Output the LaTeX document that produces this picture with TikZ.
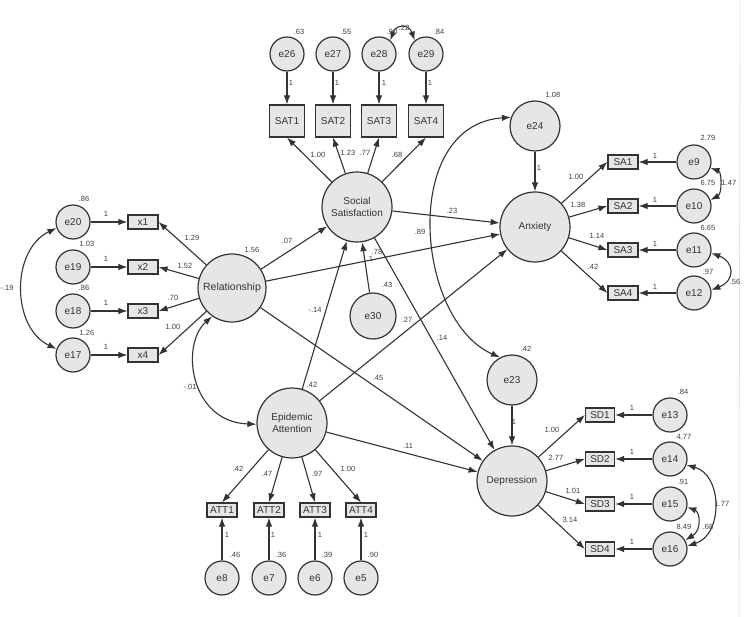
\documentclass[tikz,border=0pt]{standalone}
\usepackage{fontspec}
\setmainfont{Liberation Sans}
\usetikzlibrary{arrows.meta}
\definecolor{fillg}{HTML}{E6E6E6}
\definecolor{lineg}{HTML}{333333}
\definecolor{txtg}{HTML}{404040}
\begin{document}
\begin{tikzpicture}[x=1pt,y=-1pt,
  lat/.style={circle,draw=lineg,line width=1.2pt,fill=fillg,inner sep=0pt,font=\fontsize{10}{11.5}\selectfont,text=lineg,align=center},
  big/.style={lat,minimum size=70pt},
  err/.style={lat,minimum size=34pt},
  mid/.style={lat,minimum size=50pt},
  obs/.style={rectangle,draw=lineg,line width=1.2pt,fill=fillg,inner sep=0pt,font=\fontsize{10}{11}\selectfont,text=lineg},
  obsS/.style={obs,minimum width=30pt,minimum height=14pt},
  obsL/.style={obs,minimum width=35pt,minimum height=32pt},
  reg/.style={draw=lineg,line width=1.1pt,-{Latex[length=9pt,width=6.5pt]}},
  cov/.style={draw=lineg,line width=1.1pt,{Latex[length=9pt,width=6.5pt]}-{Latex[length=9pt,width=6.5pt]}},
  lb/.style={font=\fontsize{7.5}{8}\selectfont,text=txtg,inner sep=0pt},
]
\useasboundingbox[fill=white] (0,0) rectangle (744,617);
\draw[gray!20,line width=0.8pt] (740,0) -- (739,617);

% latent variables
\node[big] (SS) at (357,207) {Social\\Satisfaction};
\node[big,minimum size=68pt,font=\fontsize{10.5}{12}\selectfont] (Rel) at (232,288) {Relationship};
\node[big] (EA) at (292,423) {Epidemic\\Attention};
\node[big] (Anx) at (535,227) {Anxiety};
\node[big] (Dep) at (512,481) {Depression};
\node[mid] (e24) at (535,126) {e24};
\node[mid] (e23) at (512,380) {e23};
\node[lat,minimum size=46pt] (e30) at (373,316) {e30};

% top indicators
\foreach \i/\e/\x in {1/26/287,2/27/333,3/28/379,4/29/426}{
  \node[err] (e\e) at (\x,54) {e\e};
  \node[obsL] (SAT\i) at (\x,121) {SAT\i};
  \draw[reg] (e\e) -- (SAT\i);
  \draw[reg] (SS) -- (SAT\i.south);
}
% left indicators
\foreach \i/\e/\y in {1/20/222,2/19/267,3/18/311,4/17/355}{
  \node[err] (e\e) at (73,\y) {e\e};
  \node[obsS] (x\i) at (143,\y) {x\i};
  \draw[reg] (e\e) -- (x\i);
  \draw[reg] (Rel) -- (x\i.east);
}
% anxiety indicators
\foreach \i/\e/\y in {1/9/162,2/10/206,3/11/250,4/12/293}{
  \node[err] (e\e) at (694,\y) {e\e};
  \node[obsS] (SA\i) at (623,\y) {SA\i};
  \draw[reg] (e\e) -- (SA\i);
  \draw[reg] (Anx) -- (SA\i.west);
}
% depression indicators
\foreach \i/\e/\y in {1/13/415,2/14/459,3/15/504,4/16/549}{
  \node[err] (e\e) at (670,\y) {e\e};
  \node[obsS,minimum width=29pt] (SD\i) at (600,\y) {SD\i};
  \draw[reg] (e\e) -- (SD\i);
  \draw[reg] (Dep) -- (SD\i.west);
}
% attention indicators
\foreach \i/\e/\x in {1/8/222,2/7/269,3/6/315,4/5/361}{
  \node[err] (e\e) at (\x,578) {e\e};
  \node[obsS] (ATT\i) at (\x,510) {ATT\i};
  \draw[reg] (e\e) -- (ATT\i);
  \draw[reg] (EA) -- (ATT\i.north);
}

% structural paths
\draw[reg] (Rel) -- (SS);
\draw[reg] (Rel) -- (Anx);
\draw[reg] (Rel) -- (Dep);
\draw[reg] (EA) -- (SS);
\draw[reg] (EA) -- (Anx);
\draw[reg] (EA) -- (Dep);
\draw[reg] (SS) -- (Anx);
\draw[reg] (SS) -- (Dep);
\draw[reg] (e30) -- (SS);
\draw[reg] (e24) -- (Anx);
\draw[reg] (e23) -- (Dep);

% covariances
\draw[cov] (e20.200) .. controls (11,250) and (11,327) .. (e17.160);
\draw[cov] (Rel.235) .. controls (180,345) and (190,422) .. (EA.182);
\draw[cov] (e24.160) .. controls (400,125) and (415,320) .. (e23.118);
\draw[cov] (e28.50) .. controls (396,24) and (409,24) .. (e29.130);
\draw[cov] (e9.-20) .. controls (722,172) and (722,194) .. (e10.20);
\draw[cov] (e11.-10) .. controls (735,262) and (735,281) .. (e12.10);
\draw[cov] (e14.-20) .. controls (723,475) and (723,535) .. (e16.10);
\draw[cov] (e15.-10) .. controls (700,512) and (702,530) .. (e16.30);

% labels
\foreach \t/\x/\y [count=\n] in {
 .63/299/32, .55/346/32, .90/392/32, .22/404/28, .84/439/32,
 1/291/83, 1/337/83, 1/384/83, 1/430/83,
 1.00/318/155, 1.23/348/153, .77/365/153, .68/397/155,
 .86/84/199, 1.03/87/244, .86/84/288, 1.26/87/333, -.19/7/288,
 1/106/214, 1/106/259, 1/106/303, 1/106/347,
 1.29/192/238, 1.52/185/266, .70/173/298, 1.00/173/327, 1.56/252/250,
 .07/287/241, .23/452/211, .89/420/232, -.14/315/310, .27/407/320, .14/442/338,
 .45/378/378, .42/312/385, -.01/190/387, .78/377/252, 1/371/259, .43/387/285,
 1.08/553/95, 1/539/168, 1.00/576/177, 1.38/578/205, 1.14/597/236, .42/593/267,
 2.79/708/138, 6.75/708/183, 1.47/729/183, 6.65/708/228, .97/708/272, .56/735/282,
 1/655/156, 1/655/200, 1/655/244, 1/655/287,
 .42/526/349, 1/514/422, 1.00/552/430, 2.77/556/458, 1.01/573/491, 3.14/570/520,
 .84/683/392, 4.77/684/437, .91/683/482, 8.49/684/527, 1.77/722/504, .68/708/527,
 1/632/408, 1/632/452, 1/632/497, 1/632/542,
 .42/238/469, .47/267/474, .97/317/474, 1.00/348/469,
 .46/235/555, .36/281/555, .39/327/555, .90/373/555,
 1/227/535, 1/273/535, 1/320/535, 1/366/535, .11/408/446}
 \node[lb] (lab\n) at (\x,\y) {\t};
\end{tikzpicture}
\end{document}
